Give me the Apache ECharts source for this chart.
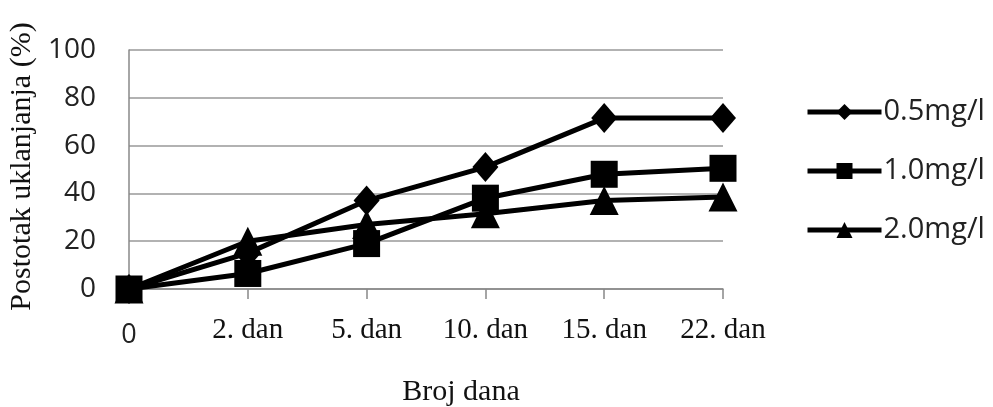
<!DOCTYPE html>
<html>
<head>
<meta charset="utf-8">
<script src="https://cdn.jsdelivr.net/npm/echarts@6/dist/echarts.min.js"></script>
<style>
  html, body { margin: 0; padding: 0; background: #fff; }
  #main { width: 993px; height: 407px; }
</style>
</head>
<body>
<div id="main"></div>
<script>
var days = ['0', '2. dan', '5. dan', '10. dan', '15. dan', '22. dan'];
var names = ['0.5mg/l', '1.0mg/l', '2.0mg/l'];
var conc05 = [0, 15, 37, 51, 71.5, 71.5];
var conc10 = [0, 6.5, 19, 38, 48, 50.5];
var conc20 = [0, 20, 27, 31.5, 37, 38.5];
var yTicks = [0, 20, 40, 60, 80, 100];

var myChart = echarts.init(document.getElementById('main'));

function line(name, data, symbol, size) {
    return {
        name: name,
        type: 'line',
        data: data,
        symbol: symbol,
        symbolSize: size,
        lineStyle: { color: '#000', width: 5 },
        itemStyle: { color: '#000' }
    };
}

var option = {
    animation: false,
    grid: { left: 129, right: 270, top: 50, bottom: 118, outerBoundsMode: 'none', containLabel: false },
    legend: {
        orient: 'vertical',
        left: 800,
        top: 91,
        itemWidth: 74,
        itemHeight: 20,
        itemGap: 27,
        lineStyle: { width: 5 },
        textStyle: { fontFamily: 'Open Sans', fontSize: 29, lineHeight: 32, color: '#222', padding: [0, 0, 0, -3] },
        data: names
    },
    xAxis: {
        type: 'category',
        data: days,
        boundaryGap: false,
        name: 'Broj dana',
        nameLocation: 'middle',
        nameGap: 88,
        nameTextStyle: { fontFamily: 'Liberation Serif', fontSize: 30, color: '#111', padding: [0, 0, 0, 70] },
        axisLine: { lineStyle: { color: '#888', width: 1.5 } },
        axisTick: { alignWithLabel: true, length: 10, lineStyle: { color: '#888', width: 1.5 } },
        axisLabel: {
            margin: 27,
            formatter: function (v) { return v === '0' ? '{z|' + v + '}' : '{d|' + v + '}'; },
            rich: {
                z: { fontFamily: 'Open Sans', fontSize: 27, color: '#222', padding: [6, 0, 0, 0] },
                d: { fontFamily: 'Liberation Serif', fontSize: 29, color: '#111' }
            }
        },
        splitLine: { show: false }
    },
    yAxis: {
        type: 'value',
        min: yTicks[0],
        max: yTicks[yTicks.length - 1],
        interval: 20,
        name: 'Postotak uklanjanja (%)',
        nameLocation: 'middle',
        nameGap: 90,
        nameTextStyle: { fontFamily: 'Liberation Serif', fontSize: 30, color: '#111', padding: [0, 0, 0, 6] },
        axisLine: { show: true, lineStyle: { color: '#888', width: 1.5 } },
        axisTick: { show: false },
        axisLabel: { fontFamily: 'Open Sans', fontSize: 28, color: '#222', margin: 33 },
        splitLine: { lineStyle: { color: '#999', width: 1.5 } }
    },
    series: [
        line(names[0], conc05, 'diamond', [26, 30]),
        line(names[1], conc10, 'rect', 27),
        line(names[2], conc20, 'triangle', 29)
    ]
};

myChart.setOption(option);
</script>
</body>
</html>
